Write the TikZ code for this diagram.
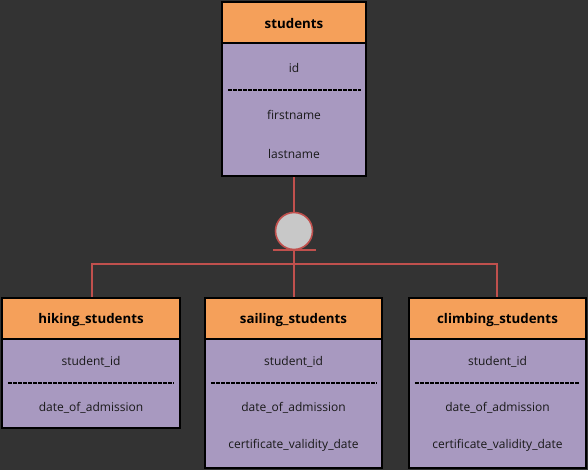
\documentclass[tikz,border=0pt]{standalone}
\usepackage{fontspec}
\setmainfont{Open Sans}
\usetikzlibrary{positioning}
\definecolor{bg}{HTML}{333333}
\definecolor{hdr}{HTML}{F5A05A}
\definecolor{body}{HTML}{A899C0}
\definecolor{conn}{HTML}{C0504D}
\definecolor{circ}{HTML}{C8C8C8}
\tikzset{
  hdrbox/.style={draw=black, line width=1.5pt, fill=hdr, inner sep=0pt},
  bodybox/.style={draw=black, line width=1.5pt, fill=body, inner sep=0pt},
  fld/.style={font=\fontsize{12}{14}\selectfont, text=black!90, inner sep=0pt, yshift=-1.5pt},
  ttl/.style={font=\fontsize{13.3}{15}\bfseries\selectfont, text=black, inner sep=0pt, yshift=-1.5pt},
  sep/.style={line width=1.4pt, dash pattern=on 3.5pt off 1.5pt, black},
  connline/.style={conn, line width=1.6pt},
}
\begin{document}
\begin{tikzpicture}[x=1pt,y=-1pt]
\useasboundingbox[fill=bg] (0,0) rectangle (588,470);
% connectors (behind)
\coordinate (jl) at (92,264);
\coordinate (jr) at (497,264);
\coordinate (jm) at (294,264);
\draw[connline] (294,176) -- (294,212);
\draw[connline] (294,249) -- (jm);
\draw[connline] (92,298) -- (jl) -- (jr) -- (497,298);
\draw[connline] (jm) -- (294,298);
% subtype circle
\node[circle, draw=conn, line width=1.6pt, fill=circ, minimum size=37pt, inner sep=0pt] (sub) at (294,231) {};
\draw[connline] (273,250) -- (316,250);
% students
\draw[bodybox] (222,43) rectangle (366,176);
\draw[hdrbox] (222,2) rectangle (366,43);
\node[ttl] (st) at (294,22) {students};
\node[fld] (st1) at (294,67) {id};
\draw[sep] (228,90) -- (361,90);
\node[fld] (st2) at (294,113) {firstname};
\node[fld] (st3) at (294,153) {lastname};
% hiking
\draw[bodybox] (2,339) rectangle (180,428);
\draw[hdrbox] (2,298) rectangle (180,339);
\node[ttl] (hk) at (91,318.5) {hiking\_students};
\node[fld] (hk1) at (91,360) {student\_id};
\draw[sep] (8,383) -- (174,383);
\node[fld] (hk2) at (91,406) {date\_of\_admission};
% sailing
\draw[bodybox] (205,339) rectangle (382,468);
\draw[hdrbox] (205,298) rectangle (382,339);
\node[ttl] (sa) at (293.5,318.5) {sailing\_students};
\node[fld] (sa1) at (293.5,360) {student\_id};
\draw[sep] (211,383) -- (377,383);
\node[fld] (sa2) at (293.5,406) {date\_of\_admission};
\node[fld] (sa3) at (293.5,444) {certificate\_validity\_date};
% climbing
\draw[bodybox] (409,339) rectangle (586,468);
\draw[hdrbox] (409,298) rectangle (586,339);
\node[ttl] (cl) at (497.5,318.5) {climbing\_students};
\node[fld] (cl1) at (497.5,360) {student\_id};
\draw[sep] (415,383) -- (580,383);
\node[fld] (cl2) at (497.5,406) {date\_of\_admission};
\node[fld] (cl3) at (497.5,444) {certificate\_validity\_date};
\end{tikzpicture}
\end{document}
